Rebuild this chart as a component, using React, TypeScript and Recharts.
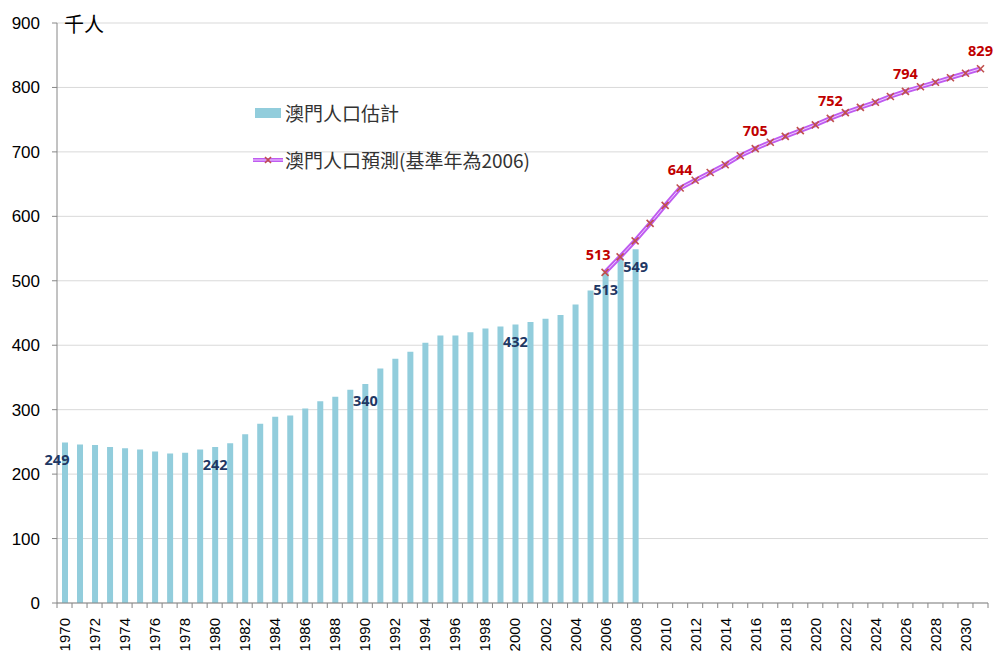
import {
  ComposedChart,
  Bar,
  Line,
  XAxis,
  YAxis,
  CartesianGrid,
  Legend,
  LabelList,
} from "recharts"

// ─── Data ────────────────────────────────────────────────────────────────────

const years = Array.from({ length: 62 }, (_, i) => 1970 + i)

// 澳門人口估計, 1970–2008 (千人)
const estimates = [
  249, 246, 245, 242, 240, 238, 235, 232, 233, 238,
  242, 248, 262, 278, 289, 291, 302, 313, 320, 331,
  340, 364, 379, 390, 404, 415, 415, 420, 426, 429,
  432, 436, 441, 447, 463, 485, 513, 535, 549,
]

// 澳門人口預測(基準年為2006), 2006–2031 (千人)
const projectionStart = 2006
const projection = [
  513, 537, 562, 589, 617, 644, 656, 668, 680, 694,
  705, 715, 724, 733, 742, 752, 761, 769, 777, 786,
  794, 801, 808, 815, 822, 829,
]

const yTicks = [0, 100, 200, 300, 400, 500, 600, 700, 800, 900]
const barLabelYears = [1970, 1980, 1990, 2000, 2006, 2008]
const projLabelYears = [2006, 2011, 2016, 2021, 2026, 2031]

const rows = years.map((year, i) => ({
  year,
  est: i < estimates.length ? estimates[i] : null,
  proj: year >= projectionStart ? projection[year - projectionStart] : null,
}))

// ─── Styling ─────────────────────────────────────────────────────────────────

const W = 993
const H = 653
const Y_AXIS_W = 57
const RIGHT = 5
const BAND = (W - Y_AXIS_W - RIGHT) / years.length
const SANS = "'Liberation Sans', Arial, sans-serif"
const LABEL_FONT = "'Open Sans', sans-serif"
const CJK = "'Noto Sans CJK TC', 'Noto Sans CJK SC', sans-serif"
const AXIS = "#868686"
const BAR = "#92cddc"
const LINE = "#bf5cf0"
const MARK = "#c0504d"

function XTick(props: any) {
  const { x, y, payload, index } = props
  const left = x - BAND / 2
  const right = x + BAND / 2
  const year = Number(payload.value)
  return (
    <g>
      <line x1={left} x2={left} y1={y} y2={y + 5} stroke={AXIS} />
      {index === years.length - 1 && <line x1={right} x2={right} y1={y} y2={y + 5} stroke={AXIS} />}
      {year % 2 === 0 && (
        <text
          x={x}
          y={y + 15}
          transform={`rotate(-90, ${x}, ${y + 15})`}
          textAnchor="end"
          dominantBaseline="central"
          fontSize={15}
          fontFamily={SANS}
          fill="#000"
        >
          {year}
        </text>
      )}
    </g>
  )
}

function CrossDot(props: any) {
  const { cx, cy, value } = props
  if (value == null || cx == null || cy == null) return <g />
  const r = 3.5
  return (
    <g stroke={MARK} strokeWidth={1.6}>
      <line x1={cx - r} y1={cy - r} x2={cx + r} y2={cy + r} />
      <line x1={cx - r} y1={cy + r} x2={cx + r} y2={cy - r} />
    </g>
  )
}

function BarValueLabel(props: any) {
  const { x, y, width, value, index } = props
  if (value == null || !barLabelYears.includes(years[index])) return null
  const dx = index === 0 ? -8 : 0
  return (
    <text x={x + width / 2 + dx} y={y + 17} textAnchor="middle" dominantBaseline="central"
      fontSize={14.5} fontWeight={700} fontFamily={LABEL_FONT} fill="#1f3864">
      {value}
    </text>
  )
}

function ProjValueLabel(props: any) {
  const { x, y, value, index } = props
  if (value == null || !projLabelYears.includes(years[index])) return null
  const dx = years[index] === projectionStart ? -7 : 0
  return (
    <text x={x + dx} y={y - 18} textAnchor="middle" dominantBaseline="central"
      fontSize={14.5} fontWeight={700} fontFamily={LABEL_FONT} fill="#c00000">
      {value}
    </text>
  )
}

function LegendBox() {
  return (
    <div style={{ fontFamily: CJK, fontSize: 19, color: "#333", lineHeight: "22px" }}>
      <div style={{ display: "flex", alignItems: "center", height: 22 }}>
        <span style={{ display: "inline-block", width: 26, height: 10, background: BAR, marginLeft: 2, marginRight: 4 }} />
        澳門人口估計
      </div>
      <div style={{ display: "flex", alignItems: "center", height: 22, marginTop: 25 }}>
        <svg width={32} height={12}>
          <line x1={0} x2={30} y1={6} y2={6} stroke={LINE} strokeWidth={4} />
          <line x1={0} x2={30} y1={6} y2={6} stroke="#f0d0ff" strokeWidth={1} />
          <line x1={12} y1={3} x2={18} y2={9} stroke={MARK} strokeWidth={1.6} />
          <line x1={12} y1={9} x2={18} y2={3} stroke={MARK} strokeWidth={1.6} />
        </svg>
        澳門人口預測(基準年為2006)
      </div>
    </div>
  )
}

export default function App() {
  return (
    <div style={{ position: "absolute", left: 0, top: 0, width: W, height: H, background: "#fff" }}>
      <ComposedChart width={W} height={H} data={rows} margin={{ top: 23, right: RIGHT, left: 0, bottom: 0 }}>
        <CartesianGrid vertical={false} stroke="#d9d9d9" />
        <XAxis dataKey="year" interval={0} height={50} tickLine={false} tickSize={0} tickMargin={0}
          axisLine={{ stroke: AXIS }} tick={<XTick />} />
        <YAxis domain={[0, 900]} ticks={yTicks} width={Y_AXIS_W} tickSize={5} tickMargin={12}
          axisLine={{ stroke: AXIS }} tickLine={{ stroke: AXIS }}
          tick={{ fontSize: 17, fill: "#000", fontFamily: SANS }} />
        <Legend layout="vertical" align="center" verticalAlign="middle" content={<LegendBox />}
          wrapperStyle={{ top: 102, left: 253, width: 340 }} />
        <Bar dataKey="est" fill={BAR} barSize={6} isAnimationActive={false}>
          <LabelList dataKey="est" content={<BarValueLabel />} />
        </Bar>
        <Line dataKey="proj" stroke={LINE} strokeWidth={4.5} dot={false} activeDot={false}
          isAnimationActive={false} legendType="none" />
        <Line dataKey="proj" stroke="#f0d0ff" strokeWidth={1} dot={<CrossDot />} activeDot={false}
          isAnimationActive={false} legendType="none">
          <LabelList dataKey="proj" content={<ProjValueLabel />} />
        </Line>
      </ComposedChart>
      <div style={{ position: "absolute", left: 64, top: 13, fontFamily: CJK, fontSize: 20, lineHeight: "22px", color: "#000" }}>
        千人
      </div>
    </div>
  )
}
